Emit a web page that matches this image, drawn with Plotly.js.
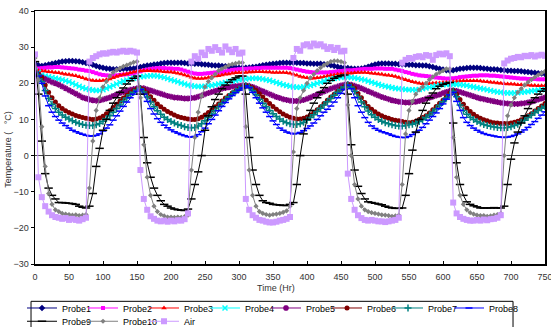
<!DOCTYPE html>
<html>
<head>
<meta charset="utf-8">
<script src="https://cdn.plot.ly/plotly-3.0.1.min.js"></script>
<style>
html,body{margin:0;padding:0;background:#fff;}
#chart{width:551px;height:327px;}
</style>
</head>
<body>
<div id="chart"></div>
<script>
// Time (Hr)
var timeHr = [
0,5,10,15,20,25,30,35,40,45,
50,55,60,65,70,75,80,85,90,95,
100,105,110,115,120,125,130,135,140,145,
150,155,160,165,170,175,180,185,190,195,
200,205,210,215,220,225,230,235,240,245,
250,255,260,265,270,275,280,285,290,295,
300,305,310,315,320,325,330,335,340,345,
350,355,360,365,370,375,380,385,390,395,
400,405,410,415,420,425,430,435,440,445,
450,455,460,465,470,475,480,485,490,495,
500,505,510,515,520,525,530,535,540,545,
550,555,560,565,570,575,580,585,590,595,
600,605,610,615,620,625,630,635,640,645,
650,655,660,665,670,675,680,685,690,695,
700,705,710,715,720,725,730,735,740,745,
750];

var probe1 = [
25.5,25,24.8,25,25.2,25.4,25.6,25.8,26,26.1,
26.2,26.2,26.1,26,25.8,25.6,25.4,25.1,24.8,24.5,
24.3,24.1,24,23.9,23.9,23.9,24,24,24,24.1,
24.3,24.5,24.7,24.9,25,25.2,25.3,25.5,25.6,25.7,
25.7,25.7,25.7,25.7,25.6,25.5,25.5,25.4,25.4,25.3,
25.2,25.1,25,24.9,24.9,24.8,24.7,24.6,24.5,24.4,
24.3,24.3,24.3,24.4,24.5,24.6,24.8,25,25.1,25.3,
25.4,25.5,25.6,25.7,25.7,25.7,25.7,25.7,25.6,25.6,
25.5,25.5,25.4,25.4,25.4,25.3,25.2,25,24.8,24.6,
24.4,24.3,24.2,24.1,24,24,24.1,24.3,24.6,24.9,
25.2,25.4,25.5,25.5,25.5,25.4,25.4,25.3,25.3,25.2,
25.1,25.1,25,25,24.9,24.9,24.7,24.5,24.2,24,
23.8,23.6,23.5,23.6,23.8,24,24.1,24.2,24.3,24.3,
24.3,24.2,24.1,24,23.9,23.9,23.8,23.7,23.6,23.5,
23.5,23.4,23.4,23.3,23.2,23.1,23,22.9,22.8,22.7,
22.6];

var probe2 = [
24.3,24.1,24.2,24.3,24.4,24.4,24.5,24.5,24.4,24.3,
24.2,24.1,24,23.8,23.7,23.5,23.4,23.1,22.8,22.5,
22.3,22.2,22.1,22.1,22.2,22.3,22.4,22.5,22.6,22.8,
23,23.3,23.6,23.8,24,24.1,24.2,24.2,24.2,24.1,
24.1,24,24,23.8,23.5,23.2,22.9,22.7,22.6,22.6,
22.7,22.8,22.9,23,23,23.1,23.3,23.5,23.7,23.8,
23.9,24,24,24.1,24.1,24.2,24.2,24.3,24.3,24.3,
24.3,24.3,24.3,24.3,24.3,24.2,24,23.8,23.6,23.4,
23.2,23.1,23,23,23,23,23,23.1,23.2,23.3,
23.4,23.5,23.6,23.6,23.7,23.8,23.9,24,24,24,
24.1,24.1,24.1,24,24,24,23.8,23.6,23.4,23.1,
22.9,22.6,22.4,22.2,22.1,22,21.9,21.7,21.6,21.5,
21.4,21.3,21.3,21.4,21.5,21.7,21.8,21.9,22,22.1,
22.1,22.2,22.2,22.2,22.1,22.1,22,21.9,21.8,21.7,
21.6,21.5,21.4,21.3,21.3,21.2,21.2,21.2,21.1,21.1,
21.1];

var probe3 = [
23.8,23.5,23.4,23.3,23.2,23.1,23,22.9,22.7,22.5,
22.4,22.2,22.1,21.8,21.5,21.2,21,20.8,20.7,20.7,
20.8,21,21.2,21.5,21.9,22.2,22.4,22.6,22.9,23.1,
23.3,23.4,23.5,23.5,23.5,23.4,23.4,23.3,23.2,23.1,
23.1,23,22.8,22.6,22.3,22,21.7,21.4,21.3,21.3,
21.4,21.6,21.8,22,22.1,22.3,22.5,22.6,22.8,22.9,
23,23,23,23.1,23.1,23.2,23.2,23.2,23.1,23.1,
23,23,23,23,22.9,22.8,22.5,22.2,21.9,21.7,
21.5,21.4,21.4,21.5,21.6,21.8,22,22.2,22.3,22.5,
22.6,22.7,22.8,22.8,22.9,23,23,23,22.9,22.8,
22.7,22.6,22.5,22.3,22.2,22.1,21.9,21.6,21.3,21,
20.7,20.4,20.2,20,19.9,19.9,19.9,20,20.1,20.1,
20.2,20.2,20.3,20.4,20.5,20.6,20.7,20.7,20.7,20.7,
20.7,20.6,20.5,20.4,20.3,20.2,20.1,20,19.9,19.8,
19.8,19.7,19.6,19.6,19.5,19.5,19.4,19.4,19.3,19.3,
19.3];

var probe4 = [
23.5,23,22.3,22,21.8,21.6,21.4,21.2,21,20.7,
20.4,20,19.6,19.2,18.8,18.5,18.3,18.1,18,18,
18.2,18.6,19,19.4,19.8,20.2,20.6,20.9,21.2,21.4,
21.6,21.8,21.9,22,22.1,22.1,22,21.8,21.6,21.3,
21,20.7,20.4,20.1,19.8,19.5,19.3,19.2,19.1,19.1,
19.2,19.3,19.4,19.6,19.8,20,20.2,20.4,20.6,20.8,
21,21.1,21.2,21.3,21.4,21.4,21.3,21.2,21,20.8,
20.5,20.2,19.9,19.6,19.4,19.2,19,18.9,18.9,19,
19.2,19.4,19.7,20,20.3,20.6,20.9,21.1,21.3,21.5,
21.6,21.7,21.7,21.6,21.5,21.3,21.1,20.9,20.6,20.3,
20,19.7,19.4,19.2,19,18.8,18.6,18.5,18.4,18.3,
18.2,18.2,18.2,18.3,18.5,18.7,18.9,19.1,19.3,19.5,
19.6,19.7,19.7,19.7,19.7,19.6,19.5,19.4,19.2,19,
18.8,18.6,18.4,18.2,18,17.8,17.6,17.5,17.4,17.3,
17.3,17.3,17.4,17.5,17.6,17.7,17.9,18,18.1,18.2,
18.3];

var probe5 = [
23,22.5,21.7,21.2,20.8,20.3,20,19.6,19.1,18.6,
18.1,17.6,17.1,16.6,16.1,15.8,15.5,15.3,15.2,15.3,
15.5,15.8,16.1,16.5,16.9,17.3,17.6,17.9,18.2,18.4,
18.6,18.7,18.6,18.3,18,17.7,17.4,17.1,16.8,16.5,
16.3,16.1,16,15.9,15.8,15.8,15.9,16,16.3,16.6,
17,17.3,17.6,17.9,18.2,18.5,18.7,18.9,19.1,19.2,
19.3,19.4,19.4,19.3,19,18.6,18.2,17.8,17.4,17,
16.6,16.2,15.9,15.6,15.4,15.2,15.1,15.1,15.2,15.4,
15.7,16.1,16.5,16.9,17.3,17.7,18.1,18.5,18.8,19.1,
19.4,19.6,19.7,19.6,19.3,19,18.6,18.2,17.8,17.4,
17,16.6,16.2,15.9,15.6,15.3,15.1,14.9,14.8,14.7,
14.7,14.8,14.9,15.1,15.4,15.7,16,16.3,16.6,16.9,
17.3,17.6,17.9,18,17.9,17.6,17.3,17,16.7,16.4,
16.1,15.8,15.6,15.4,15.2,15,14.8,14.6,14.5,14.4,
14.3,14.3,14.3,14.4,14.5,14.7,14.9,15.2,15.5,15.8,
16.1];

var probe6 = [
23,22.6,21.5,19.5,17.5,16,14.8,13.8,13,12.4,
11.9,11.5,11.1,10.8,10.5,10.3,10.1,10,10.1,10.4,
10.9,11.6,12.4,13.3,14.2,15.1,15.9,16.7,17.4,18,
18.4,18.6,18.2,17.3,16.3,15.3,14.3,13.5,12.8,12.2,
11.7,11.2,10.8,10.5,10.3,10.1,10,10,10.2,10.6,
11.2,11.9,12.7,13.5,14.3,15.1,15.9,16.6,17.3,17.9,
18.4,18.9,19.3,19.2,18.7,18,17.1,16.2,15.3,14.4,
13.6,12.8,12.1,11.5,11,10.6,10.3,10.1,10.1,10.3,
10.7,11.2,11.9,12.7,13.5,14.4,15.3,16.2,17,17.8,
18.5,19.1,19.6,19.4,18.6,17.2,16,14.7,13.6,12.8,
12.1,11.5,11,10.6,10.3,10,9.8,9.6,9.4,9.2,
9.1,9.2,9.5,10,10.5,11,11.8,12.7,13.6,14.5,
15.3,16.3,17.3,18,17,15.5,14.2,13.1,12.2,11.4,
10.8,10.3,9.9,9.6,9.3,9.1,9,8.9,8.9,8.9,
9,9.2,9.5,9.9,10.4,11,11.6,12.3,13,13.7,
14.4];

var probe7 = [
23,22.3,20.5,18,15.8,14.2,13,12,11.2,10.6,
10.1,9.6,9.2,8.9,8.6,8.4,8.3,8.3,8.5,8.9,
9.5,10.2,11,12,13,14,15,15.9,16.8,17.5,
18.1,18.4,17.6,16.2,14.8,13.5,12.4,11.4,10.6,10,
9.4,9,8.6,8.3,8,7.8,7.7,7.8,8.2,8.8,
9.6,10.5,11.5,12.5,13.5,14.5,15.4,16.3,17.1,17.8,
18.4,18.9,19.3,19,18,16.8,15.6,14.5,13.5,12.5,
11.6,10.8,10.1,9.5,9.1,8.8,8.6,8.6,8.8,9.2,
9.8,10.5,11.3,12.2,13.1,14,14.9,15.8,16.7,17.5,
18.3,19,19.6,19,17.8,16.2,14.8,13.5,12.3,11.3,
10.6,10,9.5,9.1,8.8,8.5,8.3,8.2,8.2,8.3,
8.5,8.7,9,9.4,9.9,10.5,11.2,12,12.9,13.9,
14.9,15.9,16.9,17.8,16.3,14,12.5,11.4,10.6,10,
9.4,9,8.6,8.3,8.1,7.9,7.8,7.7,7.7,7.8,
8,8.3,8.7,9.2,9.8,10.5,11.2,11.9,12.5,13.1,
13.6];

var probe8 = [
23,22,20,16.5,13.8,12,10.8,9.8,9,8.3,
7.6,7,6.6,6.2,5.9,5.6,5.4,5.4,5.6,6,
6.8,7.6,8.5,9.8,11,12.3,13.6,14.8,16,17,
17.8,18.3,17,15,13,11.5,10.2,9.2,8.4,7.7,
7.1,6.6,6.2,5.8,5.5,5.2,5.1,5.3,5.8,6.6,
7.6,8.8,10,11.2,12.4,13.6,14.7,15.7,16.6,17.4,
18.1,18.7,19.3,18.8,17.5,16,14.5,13.2,12,10.8,
9.6,8.6,7.6,7,6.5,6.2,6,6.1,6.4,6.9,
7.5,8.2,9,10,11,12,12.8,13.7,14.8,16,
17.2,18.3,19.5,18.5,16,13.8,12,10.5,9.2,8.2,
7.5,7,6.6,6.3,6,5.6,5.3,5.1,5,5,
5.3,5.8,6.4,7,7.8,8.8,9.8,10.8,11.8,13,
14.3,15.6,16.8,17.5,15,12.5,10.5,9.2,8.3,7.6,
7,6.5,6.1,5.8,5.6,5.4,5.2,5.1,5,5.1,
5.3,5.6,6,6.5,7.1,7.8,8.6,9.4,10.3,11.2,
12.1];

var probe9 = [
26,17,4,-5,-9,-11,-12,-13,-13,-13.1,
-13.2,-13.3,-13.5,-14,-14.3,-14.5,-14,-10.5,-3,2,
7,10,12.5,14.5,16,17.5,18.7,19.8,20.7,21.4,
22,17,5,-2,-6,-9,-11,-12.5,-13.5,-14,
-14.5,-14.8,-15,-15.1,-15.2,-14.8,-12,-8,-4.5,0,
7,11,13.5,15.5,17,18.5,19.5,20.3,21,21.5,
22,22,17,5,-4,-8,-11,-12.5,-13,-13.2,
-13.5,-13.6,-13.7,-13.8,-13.8,-13.5,-13,-8,0,6,
10,12.5,14.5,16,17.5,18.8,20,20.8,21.4,21.8,
22.1,22.3,17,3,-4,-8.5,-10.5,-12,-12.8,-13,
-13.2,-13.4,-13.6,-14,-14.3,-14.5,-14.6,-14.6,-14.5,-11,
-5,1.5,6.5,10,12.5,14.5,16,17.3,18.5,19.2,
19.7,20,20.2,9,-2,-8,-11,-12.8,-13.5,-13.9,
-14.2,-14.5,-14.5,-14.5,-14.5,-14.4,-14.5,-14.5,-14,-8,
-1,3.5,6.5,9,11,13,14.7,16,17,17.8,
18.5];

var probe10 = [
27,21,8,-3,-10.5,-13.5,-15,-15.5,-16,-16.2,
-16.3,-16.5,-16.4,-16.6,-16.5,-16.3,-9,4,12.5,16,
19,20.5,22,23,23.7,24.2,24.7,25,25.4,25.8,
26,16,3,-6,-11,-14,-15.5,-16.3,-16.7,-17,
-17,-17.1,-17,-17.1,-16.9,-16.5,-4,5,12,16.5,
19,20.5,21.5,22.5,23.5,24,24.5,25,25.3,25.5,
25.7,25.7,8,-4,-11,-14,-15.5,-16,-16.3,-16.5,
-16.3,-16.2,-16,-15.7,-15.3,-14,1,13,16,18,
20,21.5,22.5,23.5,24.3,25,25.5,26,26.2,26.2,
26,25.7,14,0,-8,-12,-14,-15,-15.5,-15.8,
-16,-16.2,-16.4,-16.5,-16.6,-16.8,-16.7,-16.5,-8,6,
12.5,15,17,18.2,19,20,21,21.8,22.5,23,
23.5,24,24,5,-6,-11,-13.5,-15,-15.8,-16.2,
-16.5,-16.6,-16.6,-16.8,-16.7,-16.5,-16.3,-16,0,11,
14,16,17.5,18.5,19.5,20.3,21,21.7,22.3,22.8,
23.3];

var air = [
28,-6,-11.5,-14,-15.5,-16.5,-17,-17.2,-17.5,-17.3,
-17.8,-17.5,-17.8,-18,-17.6,-17.2,26,27,27.5,28,
28.3,28.2,28.5,28.7,28.5,28.8,29,28.7,29,28.8,
28.5,-4,-12,-15,-16.8,-17.5,-18,-18.2,-18,-18.3,
-18,-18.2,-17.9,-18,-17.6,-16,26,27.5,26.8,28.5,
27.8,29.5,29,30,29.2,28.5,30.2,29.3,28.6,29.5,
28.2,28.5,-12,-15,-16.5,-17.2,-17.8,-18,-18.3,-18.5,
-18.5,-18.3,-18,-17.8,-17.5,-17,27,29.5,29,30.5,
30.8,30.2,31,30.5,30.8,30.2,29.5,30,29.2,29.8,
28.8,29,-5,-12,-15,-16.5,-17.3,-17.8,-18,-17.8,
-18,-18.2,-18.2,-18.4,-18.2,-18,-17.8,-17.2,25.7,26.5,
27,26.8,27.3,27.5,27.2,27.8,27.6,26.5,27.8,28.2,
28,28.3,27.5,-13,-16,-17,-17.5,-17.8,-18,-18,
-17.8,-18,-17.7,-17.9,-17.6,-17.5,-17.2,-16.5,25.5,26.3,
26.8,27,27.3,27.2,27.6,27.5,27.8,27.4,27.7,27.9,
27.6];

var seriesNames = ['Probe1','Probe2','Probe3','Probe4','Probe5','Probe6','Probe7','Probe8','Probe9','Probe10','Air'];
var seriesValues = [probe1,probe2,probe3,probe4,probe5,probe6,probe7,probe8,probe9,probe10,air];
var seriesColors = ['#000080','#FF00FF','#FF0000','#00FFFF','#800080','#800000','#008080','#0000FF','#000000','#808080','#CC99FF'];
var seriesSymbols = ['diamond','square','triangle-up','x-thin-open','asterisk-open','circle','cross-thin-open','line-ew-open','line-ew-open','diamond','square'];
var seriesSizes = [5,4,5,5,5,5,5,5,6,4,6];

var font = 'Liberation Sans, Arial, sans-serif';

// Legend grid (8 columns x 2 rows): one legend slot per series
var legendCol = [0,1,2,3,4,5,6,7,0,1,2];
var legendRowIdx = [0,0,0,0,0,0,0,0,1,1,1];
var rowY = [-0.1166, -0.169];
function legendSlot(i) {
  var px = 22 + 61 * legendCol[i];
  return {
    orientation: 'h',
    x: (px - 35) / 510, xanchor: 'left',
    y: rowY[legendRowIdx[i]], yanchor: 'top',
    borderwidth: 0, bgcolor: 'rgba(0,0,0,0)',
    font: {family: font, size: 9, color: '#000'},
    itemwidth: 30, tracegroupgap: 0
  };
}

var traces = seriesNames.map(function(name, i){
  return {
    type: 'scatter',
    mode: 'lines+markers',
    name: name,
    legend: i === 0 ? 'legend' : 'legend' + (i + 1),
    x: timeHr,
    y: seriesValues[i],
    line: {color: seriesColors[i], width: 1},
    marker: {
      symbol: seriesSymbols[i],
      size: seriesSizes[i],
      color: seriesColors[i],
      line: {color: seriesColors[i], width: (seriesSymbols[i].indexOf('open') >= 0 ? 1.5 : 0)}
    }
  };
});

var layout = {
  width: 551, height: 327,
  margin: {l: 35, r: 6, t: 11, b: 63, autoexpand: false},
  paper_bgcolor: '#fff', plot_bgcolor: '#fff',
  font: {family: font, size: 9, color: '#333'},
  showlegend: true,
  xaxis: {
    range: [0, 750], dtick: 50, tick0: 0,
    ticks: 'inside', ticklen: 3, tickcolor: '#000',
    showline: true, linecolor: '#000', linewidth: 1.5, mirror: true,
    showgrid: false, zeroline: false, automargin: false,
    ticklabelstandoff: 4, ticklabeloverflow: 'allow',
    tickfont: {family: font, size: 9, color: '#333'}
  },
  yaxis: {
    range: [-30, 40], dtick: 10, tick0: 0,
    ticks: 'outside', ticklen: 3, tickcolor: '#000',
    showline: true, linecolor: '#000', linewidth: 1.5, mirror: true,
    showgrid: false, zeroline: true, zerolinecolor: '#444', zerolinewidth: 1,
    automargin: false,
    tickfont: {family: font, size: 9, color: '#333'}
  },
  annotations: [
    {text: 'Time (Hr)', xref: 'paper', yref: 'paper', x: 0.4716, y: -0.095,
     xanchor: 'center', yanchor: 'middle', showarrow: false,
     font: {family: font, size: 9, color: '#333'}},
    {text: 'Temperature (   °C)', xref: 'paper', yref: 'paper', x: -0.053, y: 0.455,
     xanchor: 'center', yanchor: 'middle', showarrow: false, textangle: -90,
     font: {family: font, size: 9, color: '#333'}}
  ],
  shapes: [
    {type: 'rect', xref: 'paper', yref: 'paper',
     x0: -0.0078, x1: 0.9373, y0: -0.1475, y1: -0.26,
     line: {color: '#000', width: 1}, fillcolor: 'rgba(0,0,0,0)', layer: 'above'}
  ]
};
seriesNames.forEach(function(name, i){
  layout[i === 0 ? 'legend' : 'legend' + (i + 1)] = legendSlot(i);
});

Plotly.newPlot('chart', traces, layout, {staticPlot: true, displayModeBar: false});
</script>
</body>
</html>
